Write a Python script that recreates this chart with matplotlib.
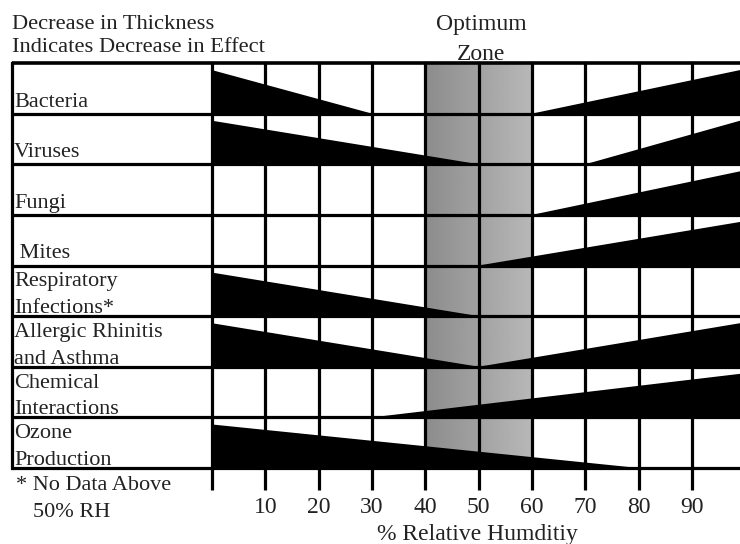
import numpy as np
import matplotlib
matplotlib.use("Agg")
import matplotlib.pyplot as plt

plt.rcParams['font.family'] = ['Liberation Serif', 'DejaVu Serif']

# rows, top to bottom
row_labels = [["Bacteria"], ["Viruses"], ["Fungi"], [" Mites"],
              ["Respiratory", "Infections*"], ["Allergic Rhinitis", "and Asthma"],
              ["Chemical", "Interactions"], ["Ozone", "Production"]]
# left wedge: full at 0 % RH, vanishing at this value (None = no wedge)
left_end = [30, 50, None, None, 50, 50, None, 80]
# right wedge: starts at this value, grows to the right edge
right_start = [60, 70, 60, 50, None, 50, 30, None]
edge_thick = 0.86          # wedge thickness (fraction of row) at the ends
optimum = (40, 60)
xticks = [0, 10, 20, 30, 40, 50, 60, 70, 80, 90]
xtick_labels = ["", "10", "20", "30", "40", "50", "60", "70", "80", "90"]

W, H = 740, 544
XMAX = 99
fig = plt.figure(figsize=(W / 100, H / 100), dpi=100)
# grid area in pixels: x 212..740, y 63..468
ax = fig.add_axes([212 / W, 1 - 468 / H, 1 - 212 / W, (468 - 63) / H])
nrows = len(row_labels)
ax.set_xlim(0, XMAX)
ax.set_ylim(nrows, 0)
for s in ax.spines.values():
    s.set_visible(False)

# optimum zone gradient
grad = np.linspace(0.55, 0.72, 64).reshape(1, -1)
ax.imshow(grad, extent=[optimum[0], optimum[1], nrows, 0], aspect='auto',
          cmap='gray', vmin=0, vmax=1, zorder=0)

# wedges
for i in range(nrows):
    bottom = i + 1
    if left_end[i] is not None:
        ax.fill([0, 0, left_end[i]], [bottom, bottom - edge_thick, bottom],
                color='black', lw=0, zorder=1)
    if right_start[i] is not None:
        ax.fill([right_start[i], XMAX, XMAX], [bottom, bottom - edge_thick, bottom],
                color='black', lw=0, zorder=1)

# grid lines, extended into the label column
x_left = (12 - 212) / 53.33 * 10
lw = 2.3
for i in range(nrows + 1):
    ax.plot([x_left, XMAX], [i, i], color='black', lw=lw if i > 0 else 2.6,
            clip_on=False, zorder=3, solid_capstyle='butt')
ax.plot([x_left, x_left], [0, nrows], color='black', lw=lw, clip_on=False, zorder=3)
for x in xticks:
    ax.plot([x, x], [0, nrows], color='black', lw=lw, zorder=3, clip_on=False)

ax.set_yticks([])
ax.set_xticks(xticks)
ax.set_xticklabels(xtick_labels, fontsize=17, color='#222222')
ax.tick_params(axis='x', length=16, width=lw, direction='out', pad=5)

def ftext(x, y, s, size=16, **kw):
    fig.text(x / W, 1 - y / H, s, fontsize=size,
             color='#222222', va='baseline', **kw)

ftext(12, 29, "Decrease in Thickness", size=16.2)
ftext(12, 52, "Indicates Decrease in Effect", size=16.2)
ftext(481, 30, "Optimum", size=17, ha='center')
ftext(481, 60, "Zone", size=17, ha='center')

row_px = 50.6
for i, lines in enumerate(row_labels):
    top = 63 + i * row_px
    bot = top + row_px
    if len(lines) == 1:
        ftext(14, bot - 7, lines[0])
    else:
        ftext(14, top + 21, lines[0])
        ftext(14, bot - 3, lines[1])

ftext(16, 490, "* No Data Above")
ftext(33, 517, "50% RH")
ftext(477, 540, "% Relative Humditiy", size=17, ha='center')

fig.savefig("out.png", dpi=100, facecolor='white')
